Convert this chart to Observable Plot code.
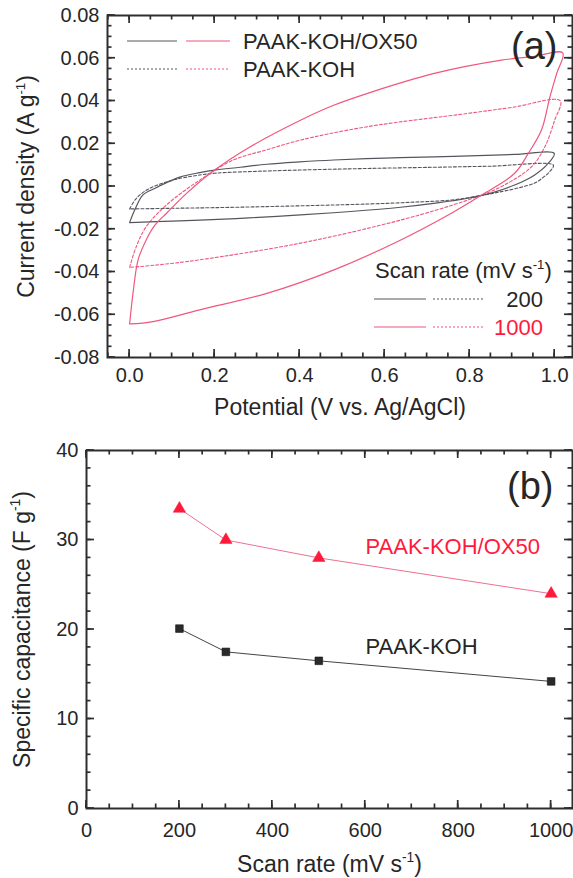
<!DOCTYPE html>
<html><head><meta charset="utf-8">
<script src="https://cdn.jsdelivr.net/npm/d3@7"></script>
<script src="https://cdn.jsdelivr.net/npm/@observablehq/plot@0.6"></script>
<style>
body{margin:0;background:#fff;}
#wrap{position:relative;width:573px;height:878px;}
svg{display:block;}
</style></head><body><div id="wrap"></div>
<script>
// ---------- Panel (a): cyclic voltammograms ----------
// PAAK-KOH/OX50, 200 mV/s (solid black)
const V_ox200 = [0, 0.012, 0.031, 0.06, 0.087, 0.12, 0.165, 0.2, 0.26, 0.323, 0.4, 0.48, 0.6, 0.717, 0.8, 0.906, 0.999,
  0.981, 0.953, 0.93, 0.906, 0.86, 0.796, 0.72, 0.638, 0.52, 0.402, 0.28, 0.165, 0.08, 0];
const I_ox200 = [-0.0169, -0.011, -0.004, -0.0008, 0.0018, 0.0045, 0.0065, 0.0077, 0.009, 0.0104, 0.0115, 0.0124, 0.0133, 0.0139, 0.0143, 0.015, 0.0155,
  0.010, 0.0054, 0.0028, 0.0007, -0.0025, -0.0055, -0.0078, -0.0097, -0.0117, -0.0133, -0.0147, -0.0157, -0.0163, -0.0169];
// PAAK-KOH, 200 mV/s (dotted black)
const V_koh200 = [0, 0.016, 0.047, 0.102, 0.15, 0.2, 0.3, 0.4, 0.55, 0.717, 0.85, 0.997,
  0.988, 0.97, 0.953, 0.92, 0.875, 0.82, 0.757, 0.66, 0.56, 0.45, 0.323, 0.2, 0.1, 0];
const I_koh200 = [-0.0105, -0.0055, -0.0009, 0.003, 0.0049, 0.0062, 0.0071, 0.0077, 0.0084, 0.009, 0.0095, 0.010,
  0.0069, 0.0038, 0.0016, -0.0004, -0.0024, -0.0045, -0.0063, -0.0074, -0.0082, -0.0088, -0.0094, -0.0099, -0.0102, -0.0105];
// PAAK-KOH/OX50, 1000 mV/s (solid red)
const V_ox1000 = [0, 0.008, 0.02, 0.039, 0.06, 0.087, 0.134, 0.2, 0.284, 0.402, 0.48, 0.56, 0.717, 0.875, 0.95, 1.019,
  1.005, 0.989, 0.969, 0.938, 0.906, 0.835, 0.757, 0.638, 0.481, 0.323, 0.165, 0.055, 0];
const I_ox1000 = [-0.0643, -0.050, -0.0343, -0.025, -0.018, -0.0125, -0.0032, 0.0077, 0.0186, 0.031, 0.038, 0.0436, 0.0529, 0.0591, 0.0608, 0.0625,
  0.053, 0.042, 0.0264, 0.0155, 0.0062, -0.0032, -0.0125, -0.025, -0.039, -0.050, -0.0577, -0.0632, -0.0643];
// PAAK-KOH, 1000 mV/s (dotted red)
const V_koh1000 = [0, 0.016, 0.039, 0.087, 0.165, 0.244, 0.32, 0.402, 0.56, 0.796, 0.9, 1.013,
  1.0, 0.977, 0.946, 0.875, 0.796, 0.638, 0.402, 0.165, 0.06, 0];
const I_koh1000 = [-0.0378, -0.028, -0.0188, -0.0086, 0.003, 0.0124, 0.017, 0.0217, 0.028, 0.0342, 0.037, 0.0401,
  0.031, 0.0186, 0.0093, 0.0, -0.0063, -0.0157, -0.0265, -0.0343, -0.0368, -0.0378];

const potMajor = [0, 0.2, 0.4, 0.6, 0.8, 1.0];
const potMinor = [-0.05,0,0.05,0.1,0.15,0.2,0.25,0.3,0.35,0.4,0.45,0.5,0.55,0.6,0.65,0.7,0.75,0.8,0.85,0.9,0.95,1.0];
const curMajor = [-0.08, -0.06, -0.04, -0.02, 0, 0.02, 0.04, 0.06, 0.08];
const curMinor = d3.range(-16, 17).map(k => k * 0.005);

// ---------- Panel (b): specific capacitance ----------
const rates = [200, 300, 500, 1000];
const capOX50 = [33.5, 30.0, 28.0, 24.0];
const capKOH = [20.1, 17.5, 16.5, 14.2];
const rateMajor = [0, 200, 400, 600, 800, 1000];
const rateMinor = d3.range(0, 21).map(k => k * 50);
const capMajor = [0, 10, 20, 30, 40];
const capMinor = d3.range(0, 21).map(k => k * 2);

const FONT = "Liberation Sans, Arial, Helvetica, sans-serif";
const INK = "#262626";
const GREY = "#55555e";
const PINK = "#f0577f";
const RED = "#ff1a3c";

const toRows = (V, I) => V.map((v, i) => ({v, i: I[i]}));

function labelAxes(xMaj, yMaj, fx, fy, padX, padY) {
  return [
    Plot.axisX(xMaj, {label: null, anchor: "bottom", tickSize: 0, tickPadding: padX, tickFormat: fx, fontSize: 20, fill: INK}),
    Plot.axisY(yMaj, {label: null, anchor: "left", tickSize: 0, tickPadding: padY, tickFormat: fy, fontSize: 20, fill: INK}),
    Plot.frame({stroke: "#2e2e2e", strokeWidth: 2})
  ];
}

// inward major/minor ticks on all four sides, positioned with the plot's own scale domains
function addTicks(plot, xMaj, xMin, yMaj, yMin, dims) {
  const x0 = dims.ml, x1 = dims.width - dims.mr;
  const yt = dims.mt, yb = dims.height - dims.mb;
  const sx = plot.scale("x"), sy = plot.scale("y");
  const X = d3.scaleLinear(sx.domain, [x0, x1]);
  const Y = d3.scaleLinear(sy.domain, [yb, yt]);
  const g = d3.select(plot).append("g");
  const M = 8, m = 4.5;
  const seg = (xa, ya, xb, yb2) => g.append("line").attr("x1", xa).attr("y1", ya).attr("x2", xb).attr("y2", yb2)
    .attr("stroke", "#2e2e2e").attr("stroke-width", 1.7);
  for (const [vals, L] of [[xMin, m], [xMaj, M]]) {
    for (const v of vals) {
      const x = X(v);
      seg(x, yb, x, yb - L);
      seg(x, yt, x, yt + L);
    }
  }
  for (const [vals, L] of [[yMin, m], [yMaj, M]]) {
    for (const v of vals) {
      const y = Y(v);
      seg(x0, y, x0 + L, y);
      seg(x1, y, x1 - L, y);
    }
  }
}

function supify(svg, fs) {
  d3.select(svg).selectAll("text").each(function () {
    const t = this.textContent;
    if (!t.includes("^-1")) return;
    const [a, b] = t.split("^-1");
    const sel = d3.select(this);
    sel.text(null);
    sel.append("tspan").text(a);
    sel.append("tspan").attr("dy", -fs * 0.42).attr("font-size", fs * 0.6).text("-1");
    sel.append("tspan").attr("dy", fs * 0.42).text(b);
  });
}

const style = {fontFamily: FONT, fontSize: "20px", color: INK, background: "#fff", overflow: "visible"};
const lineCurve = "catmull-rom";

const topDims = {width: 573, height: 420, ml: 107, mr: 1, mt: 15, mb: 63};
const topPlot = Plot.plot({
  width: topDims.width, height: topDims.height,
  marginLeft: topDims.ml, marginRight: topDims.mr, marginTop: topDims.mt, marginBottom: topDims.mb,
  x: {domain: [-0.052, 1.042]},
  y: {domain: [-0.08, 0.08]},
  style,
  marks: [
    Plot.line(toRows(V_koh200, I_koh200), {x: "v", y: "i", curve: lineCurve, stroke: GREY, strokeWidth: 1.1, strokeDasharray: "3,2"}),
    Plot.line(toRows(V_koh1000, I_koh1000), {x: "v", y: "i", curve: lineCurve, stroke: PINK, strokeWidth: 1.1, strokeDasharray: "3,2"}),
    Plot.line(toRows(V_ox200, I_ox200), {x: "v", y: "i", curve: lineCurve, stroke: GREY, strokeWidth: 1.2}),
    Plot.line(toRows(V_ox1000, I_ox1000), {x: "v", y: "i", curve: lineCurve, stroke: PINK, strokeWidth: 1.2}),
    ...labelAxes(potMajor, curMajor, d => d.toFixed(1), d => d.toFixed(2), 10, 8),
    Plot.text(["(a)"], {text: d => d, frameAnchor: "top-right", textAnchor: "end", lineAnchor: "middle", dx: -15, dy: 31, fontSize: 38, fill: INK}),
    Plot.text(["Potential (V vs. Ag/AgCl)"], {text: d => d, frameAnchor: "bottom", textAnchor: "middle", lineAnchor: "top", dy: 41, fontSize: 23, fill: INK}),
    Plot.text(["Current density (A g^-1)"], {text: d => d, frameAnchor: "left", textAnchor: "middle", rotate: -90, lineAnchor: "middle", dx: -81, fontSize: 23, fill: INK})
  ]
});
addTicks(topPlot, potMajor, potMinor, curMajor, curMinor, topDims);

const botDims = {width: 573, height: 458, ml: 86, mr: 1, mt: 30, mb: 70};
const botPlot = Plot.plot({
  width: botDims.width, height: botDims.height,
  marginLeft: botDims.ml, marginRight: botDims.mr, marginTop: botDims.mt, marginBottom: botDims.mb,
  x: {domain: [0, 1046]},
  y: {domain: [0, 40]},
  style,
  marks: [
    ...labelAxes(rateMajor, capMajor, d => String(d), d => String(d), 14, 8),
    Plot.line(rates, {x: d => d, y: (d, k) => capKOH[k], stroke: "#444", strokeWidth: 1}),
    Plot.line(rates, {x: d => d, y: (d, k) => capOX50[k], stroke: "#f07090", strokeWidth: 1}),
    Plot.dot(rates, {x: d => d, y: (d, k) => capKOH[k], symbol: "square", r: 4.3, fill: "#2a2a2a", stroke: "#111", strokeWidth: 0.6}),
    Plot.dot(rates, {x: d => d, y: (d, k) => capOX50[k], symbol: "triangle", r: 4.6, fill: RED, stroke: RED, strokeWidth: 0.5}),
    Plot.text(["(b)"], {text: d => d, frameAnchor: "top-right", textAnchor: "end", lineAnchor: "middle", dx: -19, dy: 36, fontSize: 38, fill: INK}),
    Plot.text(["PAAK-KOH/OX50"], {text: d => d, frameAnchor: "top-left", textAnchor: "start", lineAnchor: "middle", dx: 279, dy: 96, fontSize: 22, fill: RED}),
    Plot.text(["PAAK-KOH"], {text: d => d, frameAnchor: "top-left", textAnchor: "start", lineAnchor: "middle", dx: 279, dy: 196, fontSize: 22, fill: INK}),
    Plot.text(["Scan rate (mV s^-1)"], {text: d => d, frameAnchor: "bottom", textAnchor: "middle", lineAnchor: "top", dy: 47, fontSize: 23, fill: INK}),
    Plot.text(["Specific capacitance (F g^-1)"], {text: d => d, frameAnchor: "left", textAnchor: "middle", rotate: -90, lineAnchor: "middle", dx: -64, fontSize: 23, fill: INK})
  ]
});
addTicks(botPlot, rateMajor, rateMinor, capMajor, capMinor, botDims);

// Legends for panel (a)
const lg = d3.select(topPlot).append("g").attr("font-family", FONT).attr("font-size", 22)
  .attr("fill", INK).attr("text-anchor", "start");
function sample(y, x1, x2, color, dashed) {
  const l = lg.append("line").attr("x1", x1).attr("x2", x2).attr("y1", y).attr("y2", y)
    .attr("stroke", color).attr("stroke-width", 1.1);
  if (dashed) l.attr("stroke-dasharray", "2,2");
}
sample(41, 127, 177, GREY, false); sample(41, 186, 230, PINK, false);
lg.append("text").attr("x", 243).attr("y", 49.3).text("PAAK-KOH/OX50");
sample(69, 127, 177, GREY, true); sample(69, 186, 230, PINK, true);
lg.append("text").attr("x", 243).attr("y", 77.3).text("PAAK-KOH");
lg.append("text").attr("x", 375).attr("y", 278.3).text("Scan rate (mV s^-1)");
sample(299, 374, 426, GREY, false); sample(299, 433, 484, GREY, true);
lg.append("text").attr("x", 543).attr("y", 306.7).attr("text-anchor", "end").text("200");
sample(327, 374, 426, PINK, false); sample(327, 433, 484, PINK, true);
lg.append("text").attr("x", 543).attr("y", 335).attr("text-anchor", "end").attr("fill", RED).text("1000");

supify(topPlot, 22);
supify(botPlot, 23);

const wrap = document.getElementById("wrap");
wrap.appendChild(topPlot);
wrap.appendChild(botPlot);
</script>
</body></html>
